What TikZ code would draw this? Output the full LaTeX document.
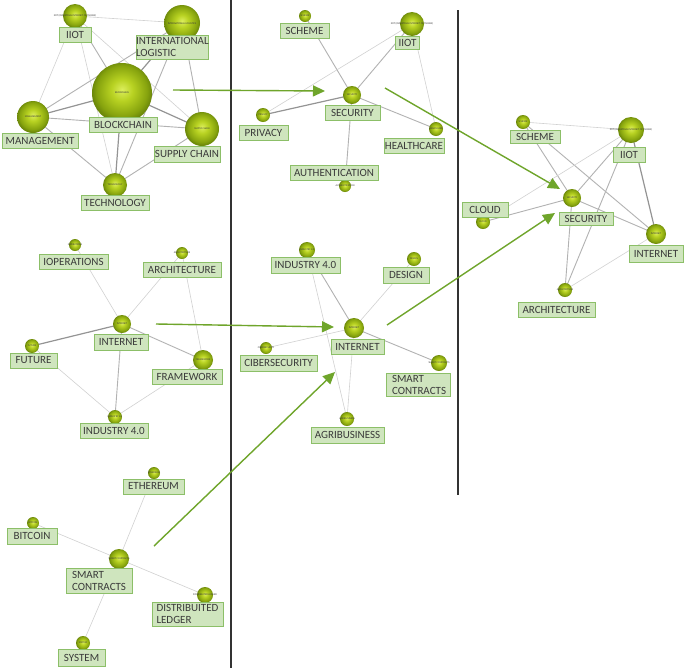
\documentclass[tikz,border=0pt]{standalone}
\usepackage{fontspec}
\setmainfont{Carlito}
\usetikzlibrary{arrows.meta,backgrounds}
\definecolor{boxfill}{HTML}{CFE5BE}
\definecolor{boxline}{HTML}{8CBF68}
\definecolor{txt}{HTML}{3A3A3A}
\definecolor{arrowgreen}{HTML}{6FA52B}
\definecolor{balllight}{HTML}{DCEE5C}
\definecolor{ballmid}{HTML}{B8D222}
\definecolor{balldark}{HTML}{86A30E}
\definecolor{balledge}{HTML}{6C880A}
\definecolor{sep}{HTML}{333333}
\pgfdeclareradialshading{greenball}{\pgfpoint{0bp}{3bp}}{color(0bp)=(balllight); color(9bp)=(ballmid); color(21bp)=(balldark); color(25bp)=(balledge); color(50bp)=(balledge)}
\tikzset{
  ball/.style={circle, draw=none, shading=greenball, minimum size=#1, inner sep=0pt},
  tiny/.style={font=\fontsize{2.6}{3}\selectfont, text=txt, inner sep=0pt},
  box/.style={draw=boxline, fill=boxfill, line width=0.8pt, text=txt, font=\fontsize{11}{12}\selectfont, inner sep=0pt, minimum height=15pt, minimum width=#1},
  twobox/.style={draw=boxline, fill=boxfill, line width=0.8pt, text=txt, font=\fontsize{11}{12}\selectfont, inner sep=0pt, minimum height=24pt, text width=#1, align=left},
  eA/.style={draw=black!18, line width=0.6pt},
  eB/.style={draw=black!30, line width=0.9pt},
  eC/.style={draw=black!42, line width=1.2pt},
  garrow/.style={draw=arrowgreen, line width=1.4pt, -{Triangle[length=12pt,width=11pt]}},
  vsep/.style={draw=sep, line width=1.3pt}
}
\begin{document}
\begin{tikzpicture}[x=1pt,y=-1pt]
\useasboundingbox (0,0) rectangle (685,670);

% ---------- separators ----------
\coordinate (v1t) at (231,0);
\coordinate (v1b) at (231,668);
\coordinate (v2t) at (458,10);
\coordinate (v2b) at (458,495);
\draw[vsep] (v1t) -- (v1b);
\draw[vsep] (v2t) -- (v2b);

% ---------- cluster 1 ----------
\node[ball=24pt] (c1iiot) at (75,16) {};
\node[ball=36pt] (c1intl) at (182,23) {};
\node[ball=60pt] (c1block) at (122,93) {};
\node[ball=32pt] (c1man) at (33,117) {};
\node[ball=34pt] (c1sup) at (202,129) {};
\node[ball=24pt] (c1tech) at (115,185) {};
\node[tiny] (c1iiott) at (75,16) {IIOT (INDUSTRIAL INTERNET OF THINGS)};
\node[tiny] (c1intlt) at (182,24) {INTERNATIONAL LOGISTICS};
\node[tiny] (c1blockt) at (122,93) {BLOCKCHAIN};
\node[tiny] (c1mant) at (33,117) {MANAGEMENT};
\node[tiny] (c1supt) at (202,129) {SUPPLY CHAIN};
\node[tiny] (c1techt) at (115,185) {TECHNOLOGY};
\node[box=32pt] (c1iiotb) at (75,34.5) {IIOT};
\node[twobox=72pt, minimum height=24pt] (c1intlb) at (172,47) {INTERNATIONAL\\LOGISTIC};
\node[box=68pt] (c1blockb) at (123,124.5) {BLOCKCHAIN};
\node[box=76pt] (c1manb) at (40,140.5) {MANAGEMENT};
\node[box=66pt, minimum height=16pt] (c1supb) at (187,154) {SUPPLY CHAIN};
\node[box=68pt] (c1techb) at (115,203) {TECHNOLOGY};

% ---------- cluster 2 ----------
\node[ball=12pt] (c2sch) at (305,16) {};
\node[ball=24pt] (c2iiot) at (412,24) {};
\node[ball=18pt] (c2sec) at (352,95) {};
\node[ball=14pt] (c2priv) at (263,115) {};
\node[ball=14pt] (c2heal) at (436,129) {};
\node[ball=12pt] (c2auth) at (345,186) {};
\node[tiny] (c2scht) at (305,16) {SCHEME};
\node[tiny] (c2iiott) at (412,24) {IIOT (INDUSTRIAL INTERNET OF THINGS)};
\node[tiny] (c2sect) at (352,95) {SECURITY};
\node[tiny] (c2privt) at (263,115) {PRIVACY};
\node[tiny] (c2healt) at (436,129) {HEALTHCARE};
\node[tiny] (c2autht) at (345,186) {AUTHENTICATION};
\node[box=49pt] (c2schb) at (304.5,30.5) {SCHEME};
\node[box=24pt, minimum height=13pt] (c2iiotb) at (407.5,42.5) {IIOT};
\node[box=55pt] (c2secb) at (352.5,112.5) {SECURITY};
\node[box=49pt] (c2privb) at (263.5,132.5) {PRIVACY};
\node[box=60pt] (c2healb) at (414,145.5) {HEALTHCARE};
\node[box=88pt] (c2authb) at (334,172.5) {AUTHENTICATION};

% ---------- cluster 3 ----------
\node[ball=14pt] (c3sch) at (523,122) {};
\node[ball=26pt] (c3iiot) at (631,130) {};
\node[ball=18pt] (c3sec) at (572,198) {};
\node[ball=14pt] (c3cloud) at (483,222) {};
\node[ball=20pt] (c3int) at (656,234) {};
\node[ball=14pt] (c3arch) at (565,290) {};
\node[tiny] (c3scht) at (523,122) {SCHEME};
\node[tiny] (c3iiott) at (631,130) {IIOT (INDUSTRIAL INTERNET OF THINGS)};
\node[tiny] (c3sect) at (572,198) {SECURITY};
\node[tiny] (c3cloudt) at (483,222) {CLOUD};
\node[tiny] (c3intt) at (656,234) {INTERNET};
\node[tiny] (c3archt) at (565,290) {ARCHITECTURE};
\node[box=50pt, minimum height=13pt] (c3schb) at (535,137) {SCHEME};
\node[box=32pt] (c3iiotb) at (629,154.5) {IIOT};
\node[box=54pt, minimum height=13pt] (c3secb) at (586,218.5) {SECURITY};
\node[box=46pt] (c3cloudb) at (485,209.5) {CLOUD};
\node[box=54pt, minimum height=17pt] (c3intb) at (656,253.5) {INTERNET};
\node[box=77pt] (c3archb) at (556.5,309.5) {ARCHITECTURE};

% ---------- cluster 4 ----------
\node[ball=12pt] (c4iop) at (75,245) {};
\node[ball=12pt] (c4arch) at (182,253) {};
\node[ball=18pt] (c4int) at (122,324) {};
\node[ball=14pt] (c4fut) at (32,346) {};
\node[ball=20pt] (c4frame) at (203,360) {};
\node[ball=14pt] (c4ind) at (115,417) {};
\node[tiny] (c4iopt) at (75,245) {IOPERATIONS};
\node[tiny] (c4archt) at (182,253) {ARCHITECTURE};
\node[tiny] (c4intt) at (122,324) {INTERNET};
\node[tiny] (c4futt) at (32,346) {FUTURE};
\node[tiny] (c4framet) at (203,360) {FRAMEWORK};
\node[tiny] (c4indt) at (115,417) {INDUSTRY 4.0};
\node[box=69pt] (c4iopb) at (73.5,261.5) {IOPERATIONS};
\node[box=78pt] (c4archb) at (182,269.5) {ARCHITECTURE};
\node[box=54pt, minimum height=16pt] (c4intb) at (121,342) {INTERNET};
\node[box=47pt] (c4futb) at (33.5,360.5) {FUTURE};
\node[box=70pt] (c4frameb) at (187,376.5) {FRAMEWORK};
\node[box=68pt] (c4indb) at (114,430.5) {INDUSTRY 4.0};

% ---------- cluster 5 ----------
\node[ball=16pt] (c5ind) at (307,250) {};
\node[ball=14pt] (c5des) at (414,259) {};
\node[ball=20pt] (c5int) at (354,328) {};
\node[ball=12pt] (c5cib) at (266,348) {};
\node[ball=16pt] (c5sm) at (439,363) {};
\node[ball=14pt] (c5agri) at (347,419) {};
\node[tiny] (c5indt) at (307,250) {INDUSTRY 4.0};
\node[tiny] (c5dest) at (414,259) {DESIGN};
\node[tiny] (c5intt) at (354,328) {INTERNET};
\node[tiny] (c5cibt) at (266,348) {CIBERSECURITY};
\node[tiny] (c5smt) at (439,363) {SMART CONTRACTS};
\node[tiny] (c5agrit) at (347,419) {AGRIBUSINESS};
\node[box=69pt, minimum height=16pt] (c5indb) at (305.5,265) {INDUSTRY 4.0};
\node[box=46pt, minimum height=16pt] (c5desb) at (406,275) {DESIGN};
\node[box=53pt] (c5intb) at (357.5,346.5) {INTERNET};
\node[box=77pt, minimum height=16pt] (c5cibb) at (278.5,363) {CIBERSECURITY};
\node[twobox=52pt, minimum height=23pt, minimum width=64pt] (c5smb) at (418,384.5) {SMART\\CONTRACTS};
\node[box=73pt, minimum height=16pt] (c5agrib) at (347.5,435) {AGRIBUSINESS};

% ---------- cluster 6 ----------
\node[ball=12pt] (c6eth) at (154,473) {};
\node[ball=12pt] (c6bit) at (33,523) {};
\node[ball=20pt] (c6sm) at (119,559) {};
\node[ball=16pt] (c6dist) at (205,595) {};
\node[ball=14pt] (c6sys) at (83,643) {};
\node[tiny] (c6etht) at (154,473) {ETHEREUM};
\node[tiny] (c6bitt) at (33,523) {BITCOIN};
\node[tiny] (c6smt) at (119,559) {SMART CONTRACTS};
\node[tiny] (c6distt) at (205,595) {DISTRIBUITED LEDGER};
\node[tiny] (c6syst) at (83,643) {SYSTEM};
\node[box=61pt] (c6ethb) at (153.5,486.5) {ETHEREUM};
\node[box=50pt, minimum height=16pt] (c6bitb) at (32,536) {BITCOIN};
\node[twobox=54pt, minimum height=25pt, minimum width=66pt] (c6smb) at (99,580.5) {SMART\\CONTRACTS};
\node[twobox=62pt, minimum height=24pt, minimum width=71pt] (c6distb) at (187.5,614) {DISTRIBUITED\\LEDGER};
\node[box=47pt, minimum height=17pt] (c6sysb) at (81.5,657.5) {SYSTEM};

% ---------- edges (behind) ----------
\begin{pgfonlayer}{background}
\fill[white] (0,0) rectangle (685,670);
% cluster 1
\draw[eA] (c1iiot.center) -- (c1intl.center);
\draw[eB] (c1iiot.center) -- (c1block.center);
\draw[eA] (c1iiot.center) -- (c1man.center);
\draw[eA] (c1iiot.center) -- (c1tech.center);
\draw[eA] (c1iiot.center) -- (c1sup.center);
\draw[eC] (c1intl.center) -- (c1block.center);
\draw[eB] (c1intl.center) -- (c1man.center);
\draw[eB] (c1intl.center) -- (c1sup.center);
\draw[eB] (c1intl.center) -- (c1tech.center);
\draw[eC] (c1block.center) -- (c1man.center);
\draw[eC] (c1block.center) -- (c1sup.center);
\draw[eC] (c1block.center) -- (c1tech.center);
\draw[eB] (c1man.center) -- (c1sup.center);
\draw[eB] (c1man.center) -- (c1tech.center);
\draw[eB] (c1sup.center) -- (c1tech.center);
% cluster 2
\draw[eB] (c2sch.center) -- (c2sec.center);
\draw[eB] (c2iiot.center) -- (c2sec.center);
\draw[eA] (c2iiot.center) -- (c2priv.center);
\draw[eA] (c2iiot.center) -- (c2heal.center);
\draw[eC] (c2sec.center) -- (c2priv.center);
\draw[eB] (c2sec.center) -- (c2heal.center);
\draw[eB] (c2sec.center) -- (c2auth.center);
% cluster 3
\draw[eA] (c3sch.center) -- (c3iiot.center);
\draw[eB] (c3sch.center) -- (c3sec.center);
\draw[eB] (c3sch.center) -- (c3int.center);
\draw[eB] (c3iiot.center) -- (c3sec.center);
\draw[eA] (c3iiot.center) -- (c3cloud.center);
\draw[eB] (c3iiot.center) -- (c3arch.center);
\draw[eC] (c3iiot.center) -- (c3int.center);
\draw[eB] (c3cloud.center) -- (c3sec.center);
\draw[eB] (c3sec.center) -- (c3int.center);
\draw[eB] (c3sec.center) -- (c3arch.center);
\draw[eA] (c3arch.center) -- (c3int.center);
% cluster 4
\draw[eA] (c4iop.center) -- (c4int.center);
\draw[eA] (c4arch.center) -- (c4int.center);
\draw[eA] (c4arch.center) -- (c4frame.center);
\draw[eC] (c4int.center) -- (c4fut.center);
\draw[eB] (c4int.center) -- (c4frame.center);
\draw[eB] (c4int.center) -- (c4ind.center);
\draw[eA] (c4fut.center) -- (c4ind.center);
\draw[eA] (c4frame.center) -- (c4ind.center);
% cluster 5
\draw[eB] (c5ind.center) -- (c5int.center);
\draw[eA] (c5ind.center) -- (c5agri.center);
\draw[eA] (c5des.center) -- (c5int.center);
\draw[eA] (c5int.center) -- (c5cib.center);
\draw[eB] (c5int.center) -- (c5sm.center);
\draw[eA] (c5int.center) -- (c5agri.center);
% cluster 6
\draw[eA] (c6eth.center) -- (c6sm.center);
\draw[eA] (c6bit.center) -- (c6sm.center);
\draw[eA] (c6sm.center) -- (c6dist.center);
\draw[eA] (c6sm.center) -- (c6sys.center);
\end{pgfonlayer}

% ---------- green arrows ----------
\coordinate (a1s) at (173,90);
\coordinate (a1e) at (325,91);
\coordinate (a2s) at (385,88);
\coordinate (a2e) at (560,189);
\coordinate (a3s) at (156,324);
\coordinate (a3e) at (334,327);
\coordinate (a4s) at (154,546);
\coordinate (a4e) at (335,372);
\coordinate (a5s) at (387,325);
\coordinate (a5e) at (555,213);
\draw[garrow] (a1s) -- (a1e);
\draw[garrow] (a2s) -- (a2e);
\draw[garrow] (a3s) -- (a3e);
\draw[garrow] (a4s) -- (a4e);
\draw[garrow] (a5s) -- (a5e);
\end{tikzpicture}
\end{document}
